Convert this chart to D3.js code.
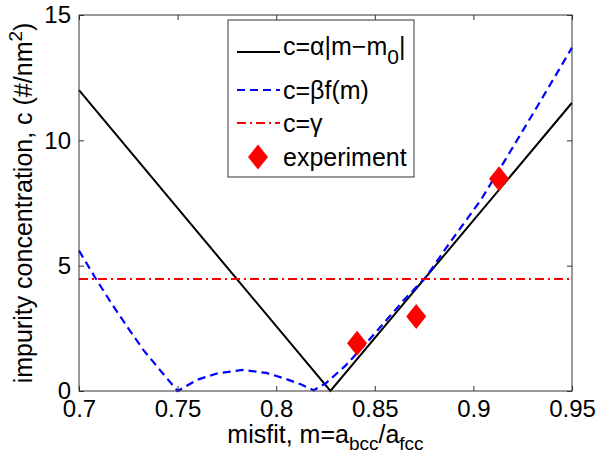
<!DOCTYPE html>
<meta charset="utf-8">
<style>

body { margin: 0; background: #fff; }

text {
  font-family: "Liberation Sans", Arial, Helvetica, sans-serif;
  font-size: 25px;
  fill: #000;
}

.axis path.domain { display: none; }
.axis line { stroke: #333; stroke-width: 1; }

</style>
<body>
<script src="https://cdn.jsdelivr.net/npm/d3@7"></script>
<script>

// tick labels
var xTicks = [0.7, 0.75, 0.8, 0.85, 0.9, 0.95];
var yTicks = [0, 5, 10, 15];

// c = alpha |m - m0|
var absM = [0.7, 0.8275, 0.95];
var absC = [12.0, 0.0, 11.5];

// c = beta f(m)
var fitM = [0.700, 0.708, 0.716, 0.725, 0.733, 0.742, 0.750, 0.760, 0.770, 0.783, 0.795, 0.805, 0.813, 0.819,
            0.825, 0.835, 0.845, 0.855, 0.865, 0.876, 0.887, 0.904, 0.916, 0.932, 0.950];
var fitC = [5.6, 4.55, 3.55, 2.5, 1.6, 0.75, 0.0, 0.45, 0.7, 0.84, 0.72, 0.48, 0.25, 0.03,
            0.3, 1.0, 1.85, 2.75, 3.65, 4.55, 5.8, 7.65, 9.2, 11.3, 13.7];

// c = gamma
var gammaC = 4.47;

// experiment points
var expM = [0.841, 0.871, 0.913];
var expC = [1.9, 2.97, 8.47];

var width = 597,
    height = 454,
    margin = {top: 15, right: 25, bottom: 63, left: 79};

var w = width - margin.left - margin.right,
    h = height - margin.top - margin.bottom;

var x = d3.scaleLinear().domain([0.7, 0.95]).range([0, w]);
var y = d3.scaleLinear().domain([0, 15]).range([h, 0]);

var svg = d3.select("body").append("svg")
    .attr("width", width)
    .attr("height", height)
  .append("g")
    .attr("transform", "translate(" + margin.left + "," + margin.top + ")");

var plot = svg.append("g");

/*
  axes - matlab style, ticks pointing in on all four sides
*/

var fmt = function(d) { return String(d); };

svg.append("g")
    .attr("class", "axis")
    .attr("transform", "translate(0," + h + ")")
    .call(d3.axisBottom(x).tickValues(xTicks).tickFormat(fmt).tickSizeInner(-5).tickSizeOuter(0).tickPadding(9));

svg.append("g")
    .attr("class", "axis")
    .call(d3.axisTop(x).tickValues(xTicks).tickFormat("").tickSizeInner(-5).tickSizeOuter(0));

svg.append("g")
    .attr("class", "axis")
    .call(d3.axisLeft(y).tickValues(yTicks).tickFormat(fmt).tickSizeInner(-5).tickSizeOuter(0).tickPadding(8));

svg.append("g")
    .attr("class", "axis")
    .attr("transform", "translate(" + w + ",0)")
    .call(d3.axisRight(y).tickValues(yTicks).tickFormat("").tickSizeInner(-5).tickSizeOuter(0));

svg.selectAll(".axis text").style("font-size", "24px").style("font-family", null);

svg.append("rect")
    .attr("width", w)
    .attr("height", h)
    .attr("fill", "none")
    .attr("stroke", "#333")
    .attr("stroke-width", 1);

/*
  curves
*/

var line = d3.line()
    .x(function(d) { return x(d[0]); })
    .y(function(d) { return y(d[1]); });

plot.append("path")
    .datum(d3.zip(absM, absC))
    .attr("d", line)
    .attr("fill", "none")
    .attr("stroke", "#000")
    .attr("stroke-width", 2);

plot.append("path")
    .datum(d3.zip(fitM, fitC))
    .attr("d", line)
    .attr("fill", "none")
    .attr("stroke", "#0000ff")
    .attr("stroke-width", 2.2)
    .attr("stroke-dasharray", "8,5");

plot.append("path")
    .datum([[0.7, gammaC], [0.95, gammaC]])
    .attr("d", line)
    .attr("fill", "none")
    .attr("stroke", "#ff0000")
    .attr("stroke-width", 2)
    .attr("stroke-dasharray", "9,4,2,4");

var diamond = "M0,-12.5L10,0L0,12.5L-10,0Z";

plot.selectAll(".exp")
    .data(d3.zip(expM, expC))
  .enter().append("path")
    .attr("class", "exp")
    .attr("transform", function(d) { return "translate(" + x(d[0]) + "," + y(d[1]) + ")"; })
    .attr("d", diamond)
    .attr("fill", "#ff0000");

/*
  legend
*/

var legend = d3.select("svg").append("g")
    .attr("transform", "translate(228,20)");

legend.append("rect")
    .attr("width", 186)
    .attr("height", 157)
    .attr("fill", "#fff")
    .attr("stroke", "#333")
    .attr("stroke-width", 1);

var rows = [32, 70, 103, 137];

legend.append("line").attr("x1", 9).attr("x2", 52).attr("y1", rows[0]).attr("y2", rows[0])
    .attr("stroke", "#000").attr("stroke-width", 2);
legend.append("line").attr("x1", 9).attr("x2", 52).attr("y1", rows[1]).attr("y2", rows[1])
    .attr("stroke", "#0000ff").attr("stroke-width", 2.2).attr("stroke-dasharray", "8,5");
legend.append("line").attr("x1", 9).attr("x2", 52).attr("y1", rows[2]).attr("y2", rows[2])
    .attr("stroke", "#ff0000").attr("stroke-width", 2).attr("stroke-dasharray", "9,4,2,4");
legend.append("path").attr("d", diamond)
    .attr("transform", "translate(30," + rows[3] + ")")
    .attr("fill", "#ff0000");

var t1 = legend.append("text").attr("x", 55).attr("y", rows[0] - 6).attr("dy", "0.35em");
t1.append("tspan").text("c=\u03b1|m\u2212m");
t1.append("tspan").attr("dy", 9).style("font-size", "21px").text("0");
t1.append("tspan").attr("dy", -9).text("|");

legend.append("text").attr("x", 55).attr("y", rows[1]).attr("dy", "0.35em").text("c=\u03b2f(m)");
legend.append("text").attr("x", 55).attr("y", rows[2]).attr("dy", "0.35em").text("c=\u03b3");
legend.append("text").attr("x", 55).attr("y", rows[3]).attr("dy", "0.35em").text("experiment");

/*
  axis labels
*/

var xl = svg.append("text")
    .attr("x", w / 2)
    .attr("y", h + 52)
    .attr("text-anchor", "middle");
xl.append("tspan").text("misfit, m=a");
xl.append("tspan").attr("dy", 7).style("font-size", "19px").text("bcc");
xl.append("tspan").attr("dy", -7).text("/a");
xl.append("tspan").attr("dy", 7).style("font-size", "19px").text("fcc");

var yl = svg.append("text")
    .attr("transform", "translate(-47," + (h / 2) + ") rotate(-90)")
    .attr("text-anchor", "middle");
yl.append("tspan").text("impurity concentration, c (#/nm");
yl.append("tspan").attr("dy", -10).style("font-size", "19px").text("2");
yl.append("tspan").attr("dy", 10).text(")");

</script>
